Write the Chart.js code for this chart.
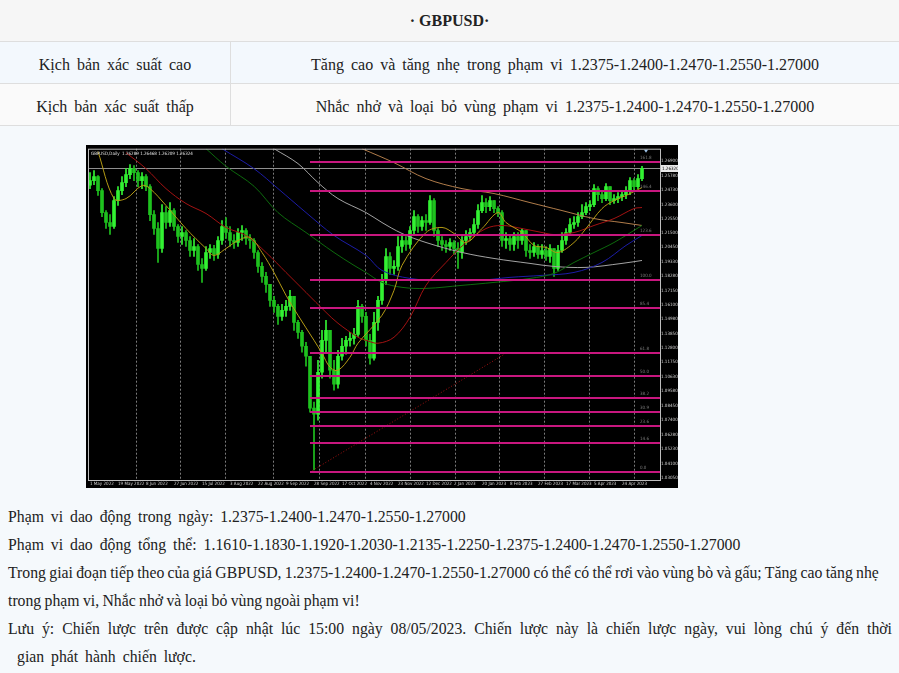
<!DOCTYPE html>
<html>
<head>
<meta charset="utf-8">
<script src="https://cdn.jsdelivr.net/npm/chart.js@4.4.0/dist/chart.umd.min.js"></script>
<style>
  body { margin: 0; width: 899px; height: 673px; background: #f5f9fc; font-family: 'Liberation Serif', 'Times New Roman', serif; color: #222; position: relative; overflow: hidden; }
  .hdr { height: 41px; line-height: 41px; text-align: center; font-weight: bold; font-size: 16px; background: #f6f6f6; border-bottom: 1px solid #dedede; }
  .row { display: flex; height: 41px; line-height: 45px; font-size: 16px; border-bottom: 1px solid #dedede; word-spacing: 3px; overflow: hidden; }
  .r1 { background: #f3f8fd; }
  .r2 { background: #fafafa; }
  .c1 { width: 230px; text-align: center; border-right: 1px solid #dedede; }
  .c2 { flex: 1; text-align: center; }
  #wrap { position: absolute; left: 86px; top: 145px; width: 592px; height: 343px; background: #000; }
  #notes { position: absolute; left: 8px; top: 503px; width: 884px; font-size: 15.75px; line-height: 28px; }
  #notes p { margin: 0; }
  .wide { word-spacing: 3px; }
  .tight { word-spacing: -0.6px; }
  .just { text-align: justify; text-align-last: justify; }
  .indent { padding-left: 9px; word-spacing: 3px; }
</style>
</head>
<body>
<div class="hdr">· GBPUSD·</div>
<div class="row r1"><div class="c1">Kịch bản xác suất cao</div><div class="c2">Tăng cao và tăng nhẹ trong phạm vi 1.2375-1.2400-1.2470-1.2550-1.27000</div></div>
<div class="row r2"><div class="c1">Kịch bản xác suất thấp</div><div class="c2">Nhắc nhở và loại bỏ vùng phạm vi 1.2375-1.2400-1.2470-1.2550-1.27000</div></div>

<div id="wrap"><canvas id="chart" width="592" height="343"></canvas></div>

<div id="notes">
  <p class="wide">Phạm vi dao động trong ngày: 1.2375-1.2400-1.2470-1.2550-1.27000</p>
  <p class="wide">Phạm vi dao động tổng thể: 1.1610-1.1830-1.1920-1.2030-1.2135-1.2250-1.2375-1.2400-1.2470-1.2550-1.27000</p>
  <p class="tight">Trong giai đoạn tiếp theo của giá GBPUSD, 1.2375-1.2400-1.2470-1.2550-1.27000 có thể có thể rơi vào vùng bò và gấu; Tăng cao tăng nhẹ trong phạm vi, Nhắc nhở và loại bỏ vùng ngoài phạm vi!</p>
  <p class="just">Lưu ý: Chiến lược trên được cập nhật lúc 15:00 ngày 08/05/2023. Chiến lược này là chiến lược ngày, vui lòng chú ý đến thời</p>
  <p class="indent">gian phát hành chiến lược.</p>
</div>

<script>
// GBPUSD daily, every candle here covers two trading days
const firstOpen = 1.2505;
const closes = [
  1.2540, 1.2570, 1.2465, 1.2300, 1.2225, 1.2195, 1.2390, 1.2465, 1.2525, 1.2585,
  1.2630, 1.2600, 1.2540, 1.2570, 1.2495, 1.2285, 1.2180, 1.2030, 1.2300, 1.2225,
  1.2315, 1.2195, 1.2120, 1.2150, 1.2090, 1.2015, 1.2045, 1.1910, 1.1880, 1.2000,
  1.2030, 1.1985, 1.2090, 1.2195, 1.2150, 1.2090, 1.2075, 1.2150, 1.2165, 1.2105,
  1.2090, 1.2000, 1.1895, 1.1820, 1.1760, 1.1640, 1.1595, 1.1520, 1.1565, 1.1595,
  1.1670, 1.1475, 1.1400, 1.1295, 1.1220, 1.0830, 1.0785, 1.1100, 1.1340, 1.1415,
  1.1115, 1.1010, 1.1220, 1.1295, 1.1340, 1.1355, 1.1385, 1.1595, 1.1520, 1.1340,
  1.1205, 1.1475, 1.1640, 1.1790, 1.1970, 1.1880, 1.1895, 1.2045, 1.2090, 1.2060,
  1.2165, 1.2270, 1.2195, 1.2240, 1.2225, 1.2390, 1.2165, 1.2090, 1.2060, 1.2045,
  1.2075, 1.2030, 1.2000, 1.2090, 1.2120, 1.2150, 1.2210, 1.2315, 1.2375, 1.2345,
  1.2390, 1.2330, 1.2300, 1.2090, 1.2105, 1.2060, 1.2120, 1.2090, 1.2165, 1.2015,
  1.2000, 1.2045, 1.1985, 1.2015, 1.1970, 1.2030, 1.1880, 1.2015, 1.2090, 1.2150,
  1.2210, 1.2225, 1.2270, 1.2300, 1.2345, 1.2360, 1.2480, 1.2435, 1.2405, 1.2495,
  1.2390, 1.2405, 1.2420, 1.2435, 1.2465, 1.2540, 1.2495, 1.2555, 1.2632
];
const highs = [
  1.2600, 1.2615, 1.2578, 1.2480, 1.2315, 1.2285, 1.2420, 1.2495, 1.2570, 1.2630,
  1.2660, 1.2653, 1.2615, 1.2600, 1.2585, 1.2510, 1.2315, 1.2225, 1.2360, 1.2345,
  1.2375, 1.2330, 1.2210, 1.2195, 1.2165, 1.2120, 1.2105, 1.2060, 1.1955, 1.2045,
  1.2060, 1.2053, 1.2120, 1.2240, 1.2263, 1.2195, 1.2135, 1.2180, 1.2203, 1.2180,
  1.2135, 1.2105, 1.2015, 1.1925, 1.1850, 1.1745, 1.1670, 1.1610, 1.1610, 1.1640,
  1.1715, 1.1670, 1.1490, 1.1415, 1.1325, 1.1220, 1.0875, 1.1190, 1.1415, 1.1490,
  1.1415, 1.1190, 1.1265, 1.1355, 1.1370, 1.1400, 1.1430, 1.1640, 1.1610, 1.1550,
  1.1385, 1.1550, 1.1670, 1.1835, 1.2030, 1.2000, 1.1940, 1.2120, 1.2135, 1.2120,
  1.2195, 1.2315, 1.2285, 1.2270, 1.2285, 1.2428, 1.2405, 1.2180, 1.2120, 1.2090,
  1.2105, 1.2090, 1.2075, 1.2120, 1.2165, 1.2180, 1.2255, 1.2360, 1.2428, 1.2405,
  1.2420, 1.2390, 1.2345, 1.2315, 1.2150, 1.2135, 1.2150, 1.2150, 1.2180, 1.2165,
  1.2060, 1.2075, 1.2060, 1.2060, 1.2045, 1.2060, 1.2015, 1.2053, 1.2150, 1.2180,
  1.2255, 1.2270, 1.2300, 1.2360, 1.2375, 1.2390, 1.2510, 1.2495, 1.2465, 1.2518,
  1.2495, 1.2435, 1.2450, 1.2465, 1.2495, 1.2563, 1.2555, 1.2585, 1.2647
];
const lows = [
  1.2480, 1.2510, 1.2428, 1.2270, 1.2180, 1.2135, 1.2180, 1.2353, 1.2435, 1.2495,
  1.2555, 1.2540, 1.2495, 1.2480, 1.2465, 1.2240, 1.2135, 1.1925, 1.2000, 1.2180,
  1.2195, 1.2165, 1.2075, 1.2060, 1.2045, 1.1970, 1.1970, 1.1865, 1.1775, 1.1865,
  1.1955, 1.1940, 1.1955, 1.2060, 1.2105, 1.2045, 1.2030, 1.2045, 1.2090, 1.2060,
  1.2030, 1.1955, 1.1850, 1.1775, 1.1700, 1.1595, 1.1550, 1.1460, 1.1490, 1.1520,
  1.1565, 1.1415, 1.1355, 1.1250, 1.1145, 1.0800, 1.0365, 1.0740, 1.1055, 1.1250,
  1.1055, 1.0965, 1.0980, 1.1190, 1.1235, 1.1295, 1.1310, 1.1370, 1.1475, 1.1295,
  1.1160, 1.1190, 1.1415, 1.1610, 1.1760, 1.1835, 1.1835, 1.1865, 1.2000, 1.2015,
  1.2030, 1.2135, 1.2150, 1.2165, 1.2165, 1.2210, 1.2120, 1.2045, 1.2015, 1.2000,
  1.2015, 1.1985, 1.1880, 1.1955, 1.2060, 1.2090, 1.2135, 1.2180, 1.2300, 1.2300,
  1.2315, 1.2300, 1.2270, 1.2045, 1.2030, 1.2015, 1.2015, 1.2030, 1.2060, 1.1970,
  1.1955, 1.1970, 1.1955, 1.1955, 1.1940, 1.1925, 1.1820, 1.1865, 1.2000, 1.2060,
  1.2135, 1.2180, 1.2195, 1.2255, 1.2285, 1.2315, 1.2345, 1.2390, 1.2375, 1.2390,
  1.2360, 1.2368, 1.2375, 1.2390, 1.2405, 1.2435, 1.2465, 1.2480, 1.2540
];

// moving averages, read as [candle, price]
const maYellow = [[2,1.2758],[6,1.2405],[9,1.2405],[13,1.2503],[15,1.2480],[19,1.2353],[24,1.2180],[29,1.2030],[31,1.1978],[34,1.2030],[37,1.2090],[40,1.2113],[43,1.2000],[46,1.1850],[49,1.1678],[52,1.1528],[56,1.1340],[58,1.1243],[60,1.1138],[62,1.1115],[65,1.1213],[67,1.1318],[73,1.1528],[76,1.1715],[78,1.1903],[84,1.2150],[88,1.2188],[91,1.2143],[94,1.2075],[98,1.2180],[102,1.2300],[104,1.2225],[108,1.2150],[111,1.2053],[114,1.2038],[117,1.2000],[121,1.2075],[124,1.2180],[128,1.2330],[131,1.2390],[134,1.2428],[138,1.2488]];
const maRed = [[9,1.2750],[14,1.2630],[19,1.2480],[24,1.2368],[29,1.2293],[34,1.2188],[39,1.2128],[44,1.2000],[49,1.1850],[54,1.1700],[59,1.1550],[62,1.1468],[67,1.1363],[69,1.1340],[72,1.1318],[76,1.1363],[80,1.1513],[84,1.1753],[89,1.1925],[94,1.2075],[99,1.2180],[103,1.2203],[108,1.2180],[113,1.2150],[116,1.2135],[121,1.2150],[126,1.2203],[131,1.2255],[136,1.2330],[138,1.2338]];
const maGreen = [[29,1.2780],[34,1.2648],[41,1.2498],[47,1.2300],[54,1.2150],[61,1.2000],[66,1.1903],[69,1.1850],[73,1.1775],[78,1.1738],[84,1.1730],[93,1.1753],[101,1.1775],[110,1.1805],[116,1.1843],[121,1.1925],[126,1.2000],[131,1.2075],[138,1.2203]];
const maBlue = [[33,1.2780],[41,1.2630],[47,1.2480],[54,1.2300],[61,1.2128],[69,1.1978],[73,1.1865],[80,1.1805],[88,1.1790],[97,1.1790],[105,1.1813],[113,1.1828],[121,1.1850],[128,1.1925],[134,1.2053],[138,1.2128]];
const maGrey = [[46,1.2780],[52,1.2668],[57,1.2525],[62,1.2405],[69,1.2300],[73,1.2225],[78,1.2143],[84,1.2075],[93,1.2000],[101,1.1955],[110,1.1918],[116,1.1895],[124,1.1888],[133,1.1918],[138,1.1940]];
const maTan = [[68,1.2780],[76,1.2675],[84,1.2555],[93,1.2480],[101,1.2443],[110,1.2375],[118,1.2315],[126,1.2255],[133,1.2225],[138,1.2203]];

// fibonacci drawn from the September low
const fiboLevels = [1.2677, 1.2465, 1.2128, 1.1790, 1.1580, 1.1243, 1.1070, 1.0905, 1.0800, 1.0695, 1.0568, 1.0350];
const fiboNames = ['161.8', '146.4', '123.6', '100.0', '85.4', '61.8', '50.0', '38.2', '30.9', '23.6', '14.6', '0.0'];
const fiboStart = 55;
const trendLine = [[55, 1.0350], [104, 1.1243]];
const bidPrice = 1.2632;

const priceTicks = [1.0305, 1.0410, 1.0523, 1.0628, 1.0740, 1.0845, 1.0958, 1.1063, 1.1175, 1.1280, 1.1385, 1.1498, 1.1610, 1.1715, 1.1828, 1.1933, 1.2045, 1.2150, 1.2255, 1.2360, 1.2473, 1.2578, 1.2690];
const dateTicks = [0, 7, 14, 21, 28, 35, 42, 49, 56, 63, 70, 77, 84, 91, 98, 105, 112, 119, 126, 133];
const dateNames = ['1 May 2022', '19 May 2022', '8 Jun 2022', '27 Jun 2022', '15 Jul 2022', '3 Aug 2022', '22 Aug 2022', '9 Sep 2022', '28 Sep 2022', '17 Oct 2022', '4 Nov 2022', '23 Nov 2022', '12 Dec 2022', '2 Jan 2023', '20 Jan 2023', '8 Feb 2023', '27 Feb 2023', '17 Mar 2023', '5 Apr 2023', '24 Apr 2023'];
const monthStarts = [11.5, 22.5, 33.75, 45.75, 57.25, 68.75, 80, 91.25, 102.25, 113.5, 124.75, 136];
const emptySlots = 4; // chart shift on the right

const slots = closes.length + emptySlots;
const labels = Array.from({ length: slots }, (_, i) => i);
const opens = closes.map((c, i) => i === 0 ? firstOpen : closes[i - 1]);
const bodies = closes.map((c, i) => [opens[i], c]);
const wicks = closes.map((c, i) => [Math.min(lows[i], opens[i], c), Math.max(highs[i], opens[i], c)]);
const candleColors = closes.map((c, i) => c >= opens[i] ? '#33f233' : '#1fc21f');

const tinyFont = { size: 4.5, family: 'DejaVu Sans Condensed' };

function toSeries(pairs) {
  const arr = new Array(slots).fill(null);
  pairs.forEach(p => { arr[p[0]] = p[1]; });
  return arr;
}

function maSet(pairs, color) {
  return {
    type: 'line', data: toSeries(pairs), borderColor: color, borderWidth: 1,
    pointRadius: 0, spanGaps: true, tension: 0.35, order: 2
  };
}

const chartDecor = {
  id: 'chartDecor',
  beforeDraw(chart) {
    const c = chart.ctx;
    c.save();
    c.fillStyle = '#000';
    c.fillRect(0, 0, chart.width, chart.height);
    c.restore();
  },
  beforeDatasetsDraw(chart) {
    const c = chart.ctx, a = chart.chartArea, x = chart.scales.x, y = chart.scales.y;
    c.save();
    c.strokeStyle = '#7a7a7a';
    c.lineWidth = 1;
    c.setLineDash([2, 2]);
    monthStarts.forEach(m => {
      const px = Math.round(x.getPixelForValue(m)) + 0.5;
      c.beginPath(); c.moveTo(px, a.top); c.lineTo(px, a.bottom); c.stroke();
    });
    c.setLineDash([]);
    // bid line
    const by = Math.round(y.getPixelForValue(bidPrice)) + 0.5;
    c.strokeStyle = '#8f8f8f';
    c.beginPath(); c.moveTo(a.left, by); c.lineTo(a.right, by); c.stroke();
    c.restore();
  },
  afterDatasetsDraw(chart) {
    const c = chart.ctx, a = chart.chartArea, x = chart.scales.x, y = chart.scales.y;
    c.save();
    const fx = x.getPixelForValue(fiboStart);
    c.strokeStyle = '#c8177f';
    c.lineWidth = 2;
    c.font = '4.5px "DejaVu Sans Condensed"';
    c.textAlign = 'left';
    c.textBaseline = 'bottom';
    fiboLevels.forEach((lv, i) => {
      const py = Math.round(y.getPixelForValue(lv));
      c.beginPath(); c.moveTo(fx, py); c.lineTo(a.right, py); c.stroke();
      c.fillStyle = '#7d7d7d';
      c.fillText(fiboNames[i], a.right - 20, py - 2);
    });
    // frame
    c.strokeStyle = '#bdbdbd';
    c.lineWidth = 1;
    c.strokeRect(a.left + 0.5, a.top + 0.5, a.right - a.left, a.bottom - a.top);
    // header text
    c.fillStyle = '#e0e0e0';
    c.textBaseline = 'middle';
    c.fillText('GBPUSD,Daily  1.26289 1.26468 1.26209 1.26324', a.left + 3, a.top + 5);
    // bid label on the price axis
    const by = Math.round(y.getPixelForValue(bidPrice));
    c.fillStyle = '#e8e8e8';
    c.fillRect(a.right + 1, by - 3, 17, 7);
    c.fillStyle = '#000';
    c.fillText(bidPrice.toFixed(5), a.right + 2, by + 0.5);
    // small marker at the top
    const mx = x.getPixelForValue(closes.length);
    c.fillStyle = '#9fc3e8';
    c.beginPath(); c.moveTo(mx - 2, a.top + 1); c.lineTo(mx + 2, a.top + 1); c.lineTo(mx, a.top + 4); c.fill();
    c.restore();
  }
};

new Chart(document.getElementById('chart'), {
  data: {
    labels: labels,
    datasets: [
      { type: 'bar', data: wicks, backgroundColor: candleColors, barThickness: 1, grouped: false, order: 3 },
      { type: 'bar', data: bodies, backgroundColor: candleColors, barThickness: 3, grouped: false, minBarLength: 1, order: 3 },
      maSet(maYellow, '#b49a14'),
      maSet(maRed, '#a31212'),
      maSet(maGreen, '#0d6a0d'),
      maSet(maBlue, '#1c1ca6'),
      maSet(maGrey, '#a3a3a3'),
      maSet(maTan, '#b07c4a'),
      {
        type: 'line', data: toSeries(trendLine), borderColor: '#a31212', borderWidth: 1,
        borderDash: [1, 2], pointRadius: 0, spanGaps: true, order: 1
      }
    ]
  },
  options: {
    responsive: false,
    animation: false,
    devicePixelRatio: 1,
    layout: { padding: { left: 2, top: 3, right: 0, bottom: 0 } },
    plugins: { legend: { display: false }, tooltip: { enabled: false } },
    scales: {
      x: {
        type: 'category',
        offset: true,
        grid: { display: false, drawTicks: false },
        border: { display: false },
        afterFit(s) { s.height = 8; },
        ticks: {
          autoSkip: false, maxRotation: 0, minRotation: 0, align: 'start', padding: 1,
          color: '#cfcfcf', font: tinyFont,
          callback(v, i) { const k = dateTicks.indexOf(i); return k >= 0 ? dateNames[k] : ''; }
        }
      },
      y: {
        position: 'right',
        min: 1.029,
        max: 1.278,
        grid: { display: false, drawTicks: false },
        border: { display: false },
        afterFit(s) { s.width = 18; },
        afterBuildTicks(s) { s.ticks = priceTicks.map(v => ({ value: v })); },
        ticks: {
          padding: 1, color: '#cfcfcf', font: tinyFont,
          callback(v) { return Number(v).toFixed(5); }
        }
      }
    }
  },
  plugins: [chartDecor]
});
</script>
</body>
</html>
